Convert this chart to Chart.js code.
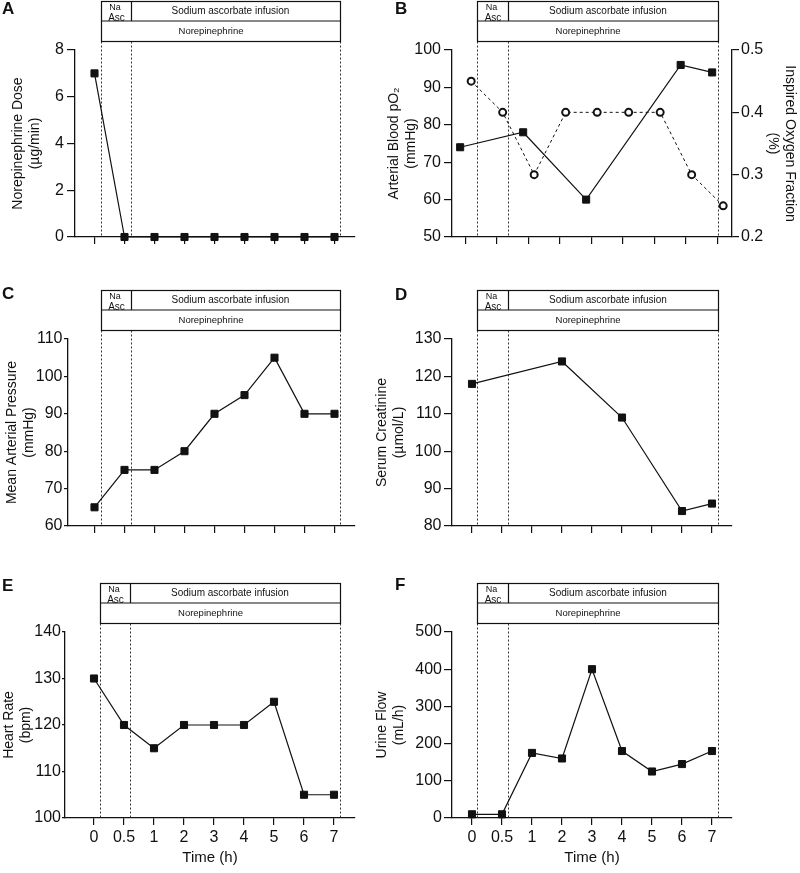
<!DOCTYPE html>
<html>
<head>
<meta charset="utf-8">
<title>Sodium ascorbate infusion – time course</title>
<script src="https://cdn.jsdelivr.net/npm/chart.js@4.4.0/dist/chart.umd.min.js"></script>
<style>
  html, body { margin: 0; padding: 0; background: #fff; }
  #figure { position: relative; width: 800px; height: 873px; }
  #figure canvas { position: absolute; left: 0; top: 0; }
</style>
</head>
<body>
<div id="figure"></div>
<script>
// ─── Data ─────────────────────────────────────────────────────────────────────

const timeLabels   = ["0", "0.5", "1", "2", "3", "4", "5", "6", "7"];
const norepiDose   = [7, 0, 0, 0, 0, 0, 0, 0, 0];
const arterialPO2  = [74, null, 78, null, 60, null, null, 96, 94];
const inspiredO2   = [0.45, 0.4, 0.3, 0.4, 0.4, 0.4, 0.4, 0.3, 0.25];
const meanArterial = [65, 75, 75, 80, 90, 95, 105, 90, 90];
const creatinine   = [118, null, null, 124, null, 109, null, 84, 86];
const heartRate    = [130, 120, 115, 120, 120, 120, 125, 105, 105];
const urineFlow    = [10, 10, 175, 160, 400, 180, 125, 145, 180];

document.addEventListener("DOMContentLoaded", () => {

// ─── Setup ────────────────────────────────────────────────────────────────────

const W = 800, H = 873;
const INK = "#111";
const FONT = "'Liberation Sans', Arial, Helvetica, sans-serif";
const TITLE_LH = 17.5;   // line height of y-axis titles (14px * 1.25)

Chart.defaults.font.family = FONT;
Chart.defaults.color = INK;

const figure = document.getElementById("figure");

// panel layout (page pixels) + content
const panels = [
  { letter: "A", letterAt: [2, 14], area: { l: 75, t: 50, r: 355, b: 237 }, x0: 94.5, dx: 30,
    edges: [0.2, 1.2, 8.2], titleX: 18, yTick: [8, 3],
    y: { min: 0, max: 8, step: 2, title: ["Norepinephrine Dose", "(µg/min)"] },
    series: [{ data: norepiDose }] },
  { letter: "B", letterAt: [395, 14], area: { l: 452, t: 50, r: 732, b: 237 }, x0: 465.5, dx: 31.5,
    edges: [0.365, 1.35, 8.02], titleX: 394, yTick: [8, 3],
    y:  { min: 50, max: 100, step: 10, title: ["Arterial Blood pO₂", "(mmHg)"] },
    y2: { min: 0.2, max: 0.5, step: 0.1, title: ["Inspired Oxygen Fraction", "(%)"], titleX: 790 },
    series: [{ data: arterialPO2, shift: -0.17 }, { data: inspiredO2, shift: 0.18, axis: "y2", open: true }] },
  { letter: "C", letterAt: [2, 299], area: { l: 68, t: 339, r: 355, b: 526 }, x0: 94.5, dx: 30,
    edges: [0.2, 1.2, 8.2], titleX: 12, yTick: [4, 1.5],
    y: { min: 60, max: 110, step: 10, title: ["Mean Arterial Pressure", "(mmHg)"] },
    series: [{ data: meanArterial }] },
  { letter: "D", letterAt: [395, 300], area: { l: 452, t: 339, r: 732, b: 526 }, x0: 472, dx: 30,
    edges: [0.167, 1.2, 8.2], titleX: 382, yTick: [8, 2.5],
    y: { min: 80, max: 130, step: 10, title: ["Serum Creatinine", "(µmol/L)"] },
    series: [{ data: creatinine }] },
  { letter: "E", letterAt: [2, 591], area: { l: 65, t: 632, r: 355, b: 818 }, x0: 94, dx: 30,
    edges: [0.2, 1.2, 8.2], titleX: 9, timeAxis: true, yTick: [3, 1],
    y: { min: 100, max: 140, step: 10, title: ["Heart Rate", "(bpm)"] },
    series: [{ data: heartRate }] },
  { letter: "F", letterAt: [395, 590], area: { l: 452, t: 632, r: 732, b: 818 }, x0: 472, dx: 30,
    edges: [0.167, 1.2, 8.2], titleX: 382, timeAxis: true, yTick: [8, 2],
    y: { min: 0, max: 500, step: 100, title: ["Urine Flow", "(mL/h)"] },
    series: [{ data: urineFlow }] },
];

function toPoints(values, shift) {
  return values
    .map((v, i) => v === null ? null : { x: i + shift, y: v })
    .filter(pt => pt);
}

// ─── Scales ───────────────────────────────────────────────────────────────────

function yScale(cfg, position, width, tick) {
  const [tickLength, tickPad] = tick;
  return {
    type: "linear",
    position,
    min: cfg.min,
    max: cfg.max,
    afterFit: s => { s.width = width; },
    grid: { drawOnChartArea: false, color: INK, lineWidth: 1.2, tickLength },
    border: { color: INK, width: 1.3 },
    ticks: {
      stepSize: cfg.step,
      font: { size: 16 },
      color: INK,
      padding: tickPad,
      callback: v => cfg.step < 1 ? v.toFixed(1) : v,
    },
    title: { display: true, text: cfg.title, font: { size: 14, lineHeight: 1.25 }, color: INK, padding: 0 },
  };
}

// ─── Decorations: phase lines, infusion boxes, panel letter ─────────────────

function decorPlugin(p) {
  return {
    id: "decor" + p.letter,
    beforeDatasetsDraw(chart) {
      const { ctx, chartArea, scales: { x } } = chart;
      ctx.save();
      ctx.strokeStyle = "#333";
      ctx.lineWidth = 1;
      ctx.setLineDash([2, 2]);
      p.edges.forEach(e => {
        const px = Math.round(x.getPixelForValue(e)) + 0.5;
        ctx.beginPath();
        ctx.moveTo(px, chartArea.top - 8.5);
        ctx.lineTo(px, chartArea.bottom);
        ctx.stroke();
      });
      ctx.restore();
    },
    afterDraw(chart) {
      const { ctx, chartArea, scales: { x } } = chart;
      const [e0, e1, e2] = p.edges.map(e => Math.round(x.getPixelForValue(e)) + 0.5);
      const top = chartArea.top - 48.5, mid = chartArea.top - 29, bot = chartArea.top - 8.5;

      ctx.save();
      ctx.fillStyle = "#fff";
      ctx.fillRect(e0, top, e2 - e0, bot - top);

      ctx.fillStyle = INK;
      ctx.textAlign = "center";
      ctx.textBaseline = "alphabetic";
      ctx.font = `9px ${FONT}`;
      ctx.fillText("Na", (e0 + e1) / 2 - 1.5, top + 8.5);
      ctx.font = `10px ${FONT}`;
      ctx.fillText("Asc", (e0 + e1) / 2, top + 19.5);

      ctx.textBaseline = "middle";
      ctx.font = `10px ${FONT}`;
      ctx.fillText("Sodium ascorbate infusion", (e1 + e2) / 2 - 5.5, (top + mid) / 2);
      ctx.font = `9.5px ${FONT}`;
      ctx.fillText("Norepinephrine", (e0 + e2) / 2 - 10, (mid + bot) / 2 + 0.5);

      ctx.strokeStyle = INK;
      ctx.lineWidth = 1.2;
      ctx.strokeRect(e0, top, e2 - e0, bot - top);
      ctx.beginPath();
      ctx.moveTo(e0, mid); ctx.lineTo(e2, mid);
      ctx.moveTo(e1, top); ctx.lineTo(e1, mid);
      ctx.stroke();

      ctx.font = `bold 17px ${FONT}`;
      ctx.textAlign = "left";
      ctx.textBaseline = "alphabetic";
      ctx.fillText(p.letter, p.letterAt[0], p.letterAt[1]);
      ctx.restore();
    },
  };
}

// ─── Charts ───────────────────────────────────────────────────────────────────

function buildPanel(p) {
  const canvas = document.createElement("canvas");
  canvas.width = W;
  canvas.height = H;
  figure.appendChild(canvas);

  const a = p.area;
  const padLeft = p.titleX - TITLE_LH / 2;
  const xHeight = p.timeAxis ? 52 : 10;
  const rightW  = p.y2 ? p.y2.titleX + TITLE_LH / 2 - a.r : 0;

  const scales = {
    x: {
      type: "linear",
      min: (a.l - p.x0) / p.dx,
      max: (a.r - p.x0) / p.dx,
      afterBuildTicks: s => { s.ticks = timeLabels.map((_, i) => ({ value: i })); },
      afterFit: s => { s.height = xHeight; },
      grid: { drawOnChartArea: false, color: INK, lineWidth: 1.2, tickLength: 7 },
      border: { color: INK, width: 1.3 },
      ticks: {
        display: !!p.timeAxis,
        callback: v => timeLabels[v],
        font: { size: 16 },
        color: INK,
        padding: 3,
        maxRotation: 0,
        autoSkip: false,
      },
      title: { display: !!p.timeAxis, text: "Time (h)", font: { size: 15 }, color: INK, padding: { top: 0, bottom: 3 } },
    },
    y: yScale(p.y, "left", a.l - padLeft, p.yTick),
  };
  if (p.y2) scales.y2 = yScale(p.y2, "right", rightW, [7, 2]);

  new Chart(canvas, {
    type: "scatter",
    data: {
      datasets: p.series.map(s => ({
        data: toPoints(s.data, s.shift || 0),
        yAxisID: s.axis || "y",
        showLine: true,
        borderColor: INK,
        borderWidth: s.open ? 1 : 1.2,
        borderDash: s.open ? [3, 3] : [],
        pointStyle: s.open ? "circle" : "rect",
        pointRadius: s.open ? 3.5 : 5,
        pointBorderWidth: s.open ? 2 : 1,
        pointBackgroundColor: s.open ? "#fff" : INK,
        pointBorderColor: INK,
        clip: false,
      })),
    },
    options: {
      responsive: false,
      animation: false,
      events: [],
      layout: { padding: { top: a.t, left: padLeft, right: W - a.r - rightW, bottom: H - a.b - xHeight } },
      plugins: { legend: { display: false }, tooltip: { enabled: false } },
      scales,
    },
    plugins: [decorPlugin(p)],
  });
}

panels.forEach(buildPanel);

}); // DOMContentLoaded
</script>
</body>
</html>
